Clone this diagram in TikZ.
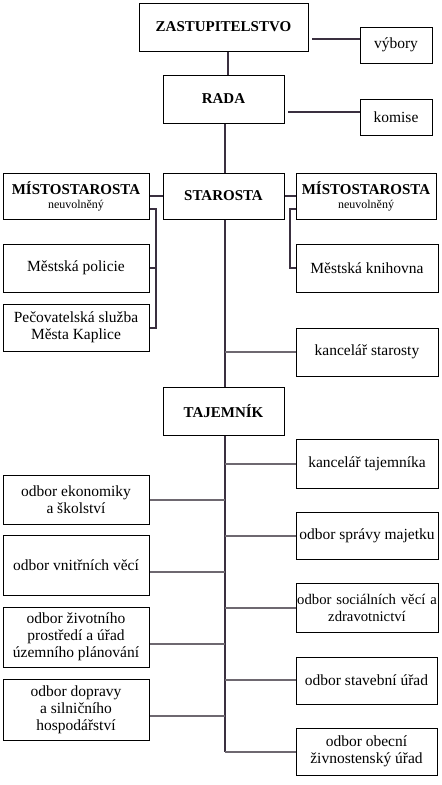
\documentclass[tikz,border=0pt]{standalone}
\usepackage{fontspec}
\setmainfont{Liberation Serif}
\definecolor{trunkc}{HTML}{3A3040}
\definecolor{connc}{HTML}{6E6870}
\begin{document}
\begin{tikzpicture}[x=1pt,y=-1pt,
  box/.style={draw=black,line width=1pt,inner sep=1pt,align=center,
    font=\fontsize{15.5}{17}\selectfont},
  boldbox/.style={box,font=\fontsize{15}{17}\selectfont\bfseries},
  trunk/.style={draw=trunkc,line width=1.2pt},
  conn/.style={draw=connc,line width=1.2pt}]
\useasboundingbox (0,0) rectangle (442,785);
% top
\node[boldbox,minimum width=169pt,minimum height=48pt] (zast) at (223.5,27) {ZASTUPITELSTVO};
\node[box,minimum width=72pt,minimum height=36pt] (vybory) at (396,45) {výbory};
\node[boldbox,minimum width=121pt,minimum height=48pt] (rada) at (223.5,99) {RADA};
\node[box,minimum width=72pt,minimum height=36pt] (komise) at (396,117) {komise};
% starosta level
\node[boldbox,minimum width=146pt,minimum height=46pt] (mist1) at (76,196)
  {MÍSTOSTAROSTA\\[-3pt]{\fontsize{12}{13}\selectfont\mdseries neuvolněný}};
\node[boldbox,minimum width=121pt,minimum height=46pt] (starosta) at (223.5,196) {STAROSTA};
\node[boldbox,minimum width=140pt,minimum height=46pt] (mist2) at (366,196)
  {MÍSTOSTAROSTA\\[-3pt]{\fontsize{12}{13}\selectfont\mdseries neuvolněný}};
\node[box,minimum width=146pt,minimum height=48pt] (policie) at (76,268) {Městská policie};
\node[box,minimum width=146pt,minimum height=47pt] (pecov) at (76,327.5) {Pečovatelská služba\\Města Kaplice};
\node[box,minimum width=142pt,minimum height=48pt] (knihovna) at (367,268) {Městská knihovna};
\node[box,minimum width=142pt,minimum height=48pt] (kancst) at (367,352) {kancelář starosty};
% tajemnik level
\node[boldbox,minimum width=121pt,minimum height=48pt] (taj) at (223.5,411) {TAJEMNÍK};
\node[box,minimum width=142pt,minimum height=49pt] (kanctaj) at (367,463.5) {kancelář tajemníka};
\node[box,minimum width=146pt,minimum height=49pt] (ekon) at (76,499.5) {odbor ekonomiky\\a školství};
\node[box,minimum width=142pt,minimum height=47pt] (sprava) at (367,535.5) {odbor správy majetku};
\node[box,minimum width=146pt,minimum height=60pt] (vnitr) at (76,565) {odbor vnitřních věcí};
\node[box,minimum width=142pt,minimum height=49pt,text width=140pt,inner sep=0pt,
  font=\fontsize{14.7}{17}\selectfont] (social) at (367,607.5) {odbor sociálních věcí a\\zdravotnictví};
\node[box,minimum width=146pt,minimum height=60pt] (zivot) at (76,637) {odbor životního\\prostředí a úřad\\územního plánování};
\node[box,minimum width=141pt,minimum height=47pt] (stavebni) at (366.5,680.5) {odbor stavební úřad};
\node[box,minimum width=146pt,minimum height=61pt] (doprava) at (76,709.5) {odbor dopravy\\a silničního\\hospodářství};
\node[box,minimum width=141pt,minimum height=47pt] (obecni) at (366.5,751.5) {odbor obecní\\živnostenský úřad};
% coordinates
\coordinate (zv) at (312,39);
\coordinate (rk) at (288,112);
\coordinate (lb1) at (156,209);
\coordinate (lb2) at (156,268);
\coordinate (lb3) at (156,328);
\coordinate (rb1) at (290,209);
\coordinate (rb2) at (290,268);
\coordinate (t1) at (225,352);
\coordinate (t2) at (225,464);
\coordinate (t3) at (225,500);
\coordinate (t4) at (225,536);
\coordinate (t5) at (225,572);
\coordinate (t6) at (225,608);
\coordinate (t7) at (225,644);
\coordinate (t8) at (225,680);
\coordinate (t9) at (225,716);
\coordinate (t10) at (225,752);
% connectors
\draw[trunk] (zast.south -| 228,0) -- (rada.north -| 228,0);
\draw[trunk] (rada.south -| 225,0) -- (starosta.north -| 225,0);
\draw[trunk] (starosta.south -| 225,0) -- (taj.north -| 225,0);
\draw[trunk] (taj.south -| 225,0) -- (t10);
\draw[trunk] (zv) -- (zv -| vybory.west);
\draw[trunk] (rk) -- (rk -| komise.west);
\draw[trunk] (mist1.east) -- (starosta.west);
\draw[trunk] (starosta.east) -- (mist2.west);
\draw[trunk] (lb1 -| mist1.east) -- (lb1) -- (lb3) -- (lb3 -| pecov.east);
\draw[trunk] (lb2) -- (lb2 -| policie.east);
\draw[trunk] (rb1 -| mist2.west) -- (rb1) -- (rb2) -- (rb2 -| knihovna.west);
\draw[conn] (t1) -- (t1 -| kancst.west);
\draw[conn] (t2) -- (t2 -| kanctaj.west);
\draw[conn] (t3) -- (t3 -| ekon.east);
\draw[conn] (t4) -- (t4 -| sprava.west);
\draw[conn] (t5) -- (t5 -| vnitr.east);
\draw[conn] (t6) -- (t6 -| social.west);
\draw[conn] (t7) -- (t7 -| zivot.east);
\draw[conn] (t8) -- (t8 -| stavebni.west);
\draw[conn] (t9) -- (t9 -| doprava.east);
\draw[conn] (t10) -- (t10 -| obecni.west);
\end{tikzpicture}
\end{document}
